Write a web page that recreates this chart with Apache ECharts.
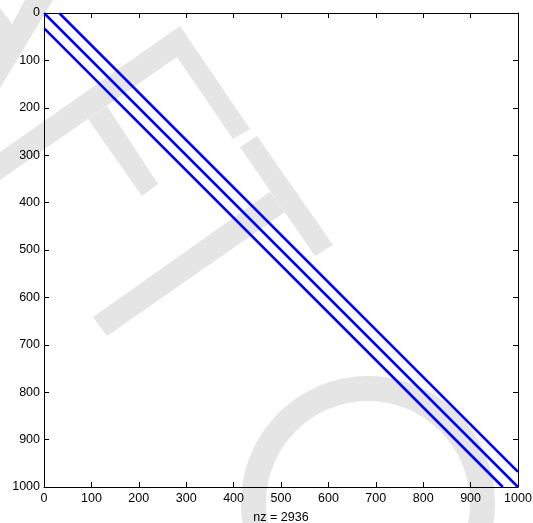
<!DOCTYPE html>
<html>
<head>
<meta charset="utf-8">
<script src="https://cdn.jsdelivr.net/npm/echarts@6/dist/echarts.min.js"></script>
<style>html,body{margin:0;padding:0;background:#fff;}#c{width:533px;height:523px;}</style>
</head>
<body>
<div id="c"></div>
<script>
// Axis ticks
const xTicks = [0, 100, 200, 300, 400, 500, 600, 700, 800, 900, 1000];
const yTicks = [0, 100, 200, 300, 400, 500, 600, 700, 800, 900, 1000];
// Sparsity pattern: three diagonals of a 1000x1000 matrix (column, row)
const mainDiag = [[1, 1], [1000, 1000]];
const upperDiag = [[33, 1], [1000, 968]];
const lowerDiag = [[1, 33], [968, 1000]];
const nzCount = 2936;

const grey = '#e5e5e5';
const chart = echarts.init(document.getElementById('c'), null, {renderer: 'canvas'});
const font = 'Liberation Sans, Arial, Helvetica, sans-serif';
const lineStyle = {color: '#0000ff', width: 2.6};
const fmt = function (v) { return String(v); };

function mk(data) {
  return {type: 'line', data: data, showSymbol: false, symbol: 'none', lineStyle: lineStyle, z: 5, silent: true, animation: false};
}

chart.setOption({
  animation: false,
  backgroundColor: '#ffffff',
  graphic: [
    {type: 'polygon', z: -10, shape: {points: [[0,8],[12,24],[25,0],[53,0],[0,88]]}, style: {fill: grey}},
    {type: 'polygon', z: -10, shape: {points: [[0,152],[180,26],[250,129],[233,139],[177,57],[0,180]]}, style: {fill: grey}},
    {type: 'polygon', z: -10, shape: {points: [[88,119],[107,106],[158,184],[142,196]]}, style: {fill: grey}},
    {type: 'polygon', z: -10, shape: {points: [[93,317],[107,336],[285,212],[270,192]]}, style: {fill: grey}},
    {type: 'polygon', z: -10, shape: {points: [[240,147],[257,136],[333,245],[315,256]]}, style: {fill: grey}},
    {type: 'ring', z: -10, shape: {cx: 368, cy: 503, r: 127, r0: 102}, style: {fill: grey}}
  ],
  grid: {left: 44, top: 13, width: 474, height: 474, show: false, containLabel: false, outerBoundsMode: 'none'},
  xAxis: [{
    type: 'value', min: xTicks[0], max: xTicks[xTicks.length - 1], interval: 100, position: 'bottom',
    name: 'nz = ' + nzCount, nameLocation: 'middle', nameGap: 24,
    nameTextStyle: {color: '#000', fontSize: 12.5, fontFamily: font},
    axisLine: {show: true, onZero: false, lineStyle: {color: '#000', width: 1}},
    axisTick: {show: true, inside: true, length: 5, lineStyle: {color: '#000'}},
    axisLabel: {color: '#000', fontSize: 12.5, fontFamily: font, margin: 5, formatter: fmt},
    splitLine: {show: false}
  }, {
    type: 'value', min: xTicks[0], max: xTicks[xTicks.length - 1], interval: 100, position: 'top',
    axisLine: {show: true, onZero: false, lineStyle: {color: '#000', width: 1}},
    axisTick: {show: true, inside: true, length: 5, lineStyle: {color: '#000'}},
    axisLabel: {show: false}, splitLine: {show: false}
  }],
  yAxis: [{
    type: 'value', inverse: true, min: yTicks[0], max: yTicks[yTicks.length - 1], interval: 100, position: 'left',
    axisLine: {show: true, onZero: false, lineStyle: {color: '#000', width: 1}},
    axisTick: {show: true, inside: true, length: 5, lineStyle: {color: '#000'}},
    axisLabel: {color: '#000', fontSize: 12.5, fontFamily: font, margin: 4, formatter: fmt},
    splitLine: {show: false}
  }, {
    type: 'value', inverse: true, min: yTicks[0], max: yTicks[yTicks.length - 1], interval: 100, position: 'right',
    axisLine: {show: true, onZero: false, lineStyle: {color: '#000', width: 1}},
    axisTick: {show: true, inside: true, length: 5, lineStyle: {color: '#000'}},
    axisLabel: {show: false}, splitLine: {show: false}
  }],
  series: [mk(mainDiag), mk(upperDiag), mk(lowerDiag)]
});
</script>
</body>
</html>
